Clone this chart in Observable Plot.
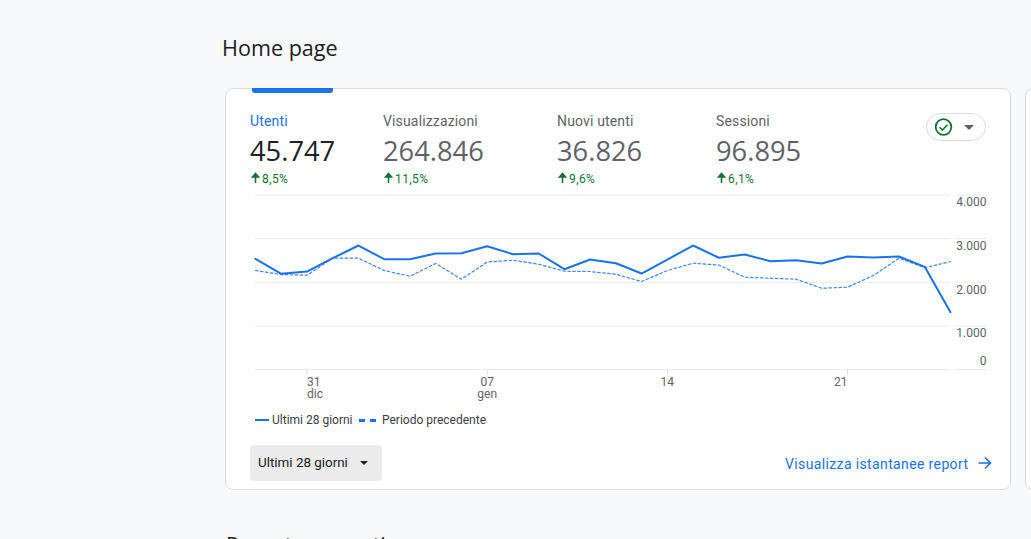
<!DOCTYPE html>
<html lang="it">
<head>
<meta charset="utf-8">
<script src="https://cdn.jsdelivr.net/npm/d3@7"></script>
<script src="https://cdn.jsdelivr.net/npm/@observablehq/plot@0.6"></script>
<style>
html,body{margin:0;padding:0;width:1031px;height:539px;overflow:hidden;background:#f8f9fa;font-family:Roboto,sans-serif;}
.a{position:absolute;white-space:nowrap;line-height:1;}
.card{position:absolute;background:#fff;border:1px solid #dadce0;border-radius:8px;box-sizing:border-box;}
.label{font-size:14px;color:#5f6368;top:114px;letter-spacing:.15px;}
.value{font-family:"Open Sans",sans-serif;font-size:27.3px;color:#5f6368;top:136.5px;letter-spacing:0;}
.delta{font-size:12px;color:#137333;top:173px;letter-spacing:.4px;}
.lg{font-size:12px;color:#3c4043;top:414px;}
#chart{position:absolute;left:225px;top:180px;}
</style>
</head>
<body>
<div class="a" id="title" style="left:222px;top:37px;font-size:21.6px;color:#202124;font-family:'Open Sans',sans-serif;">Home page</div>
<div class="card" style="left:225px;top:88px;width:786px;height:402px;"></div>
<div class="card" style="left:1025px;top:88px;width:40px;height:402px;"></div>
<div class="a" style="left:252px;top:88px;width:81px;height:5px;background:#1a73e8;border-radius:0 0 3px 3px;"></div>
<div id="kpis"></div>
<div class="a" style="left:926px;top:113px;width:58px;height:26px;border:1px solid #dadce0;border-radius:14px;background:#fff;"></div>
<svg class="a" style="left:934px;top:118px;" width="19" height="19" viewBox="0 0 19 19"><circle cx="9.5" cy="9" r="7.8" fill="none" stroke="#137333" stroke-width="1.8"/><path d="M5.6 9.3l2.8 2.8 5-5.4" fill="none" stroke="#137333" stroke-width="1.6"/></svg>
<div class="a" style="left:964px;top:125px;width:0;height:0;border-left:5px solid transparent;border-right:5px solid transparent;border-top:5px solid #5f6368;"></div>
<div id="chart"></div>
<div class="a" style="left:255px;top:419px;width:14px;height:2px;background:#1a73e8;"></div>
<div class="a lg" style="left:272px;">Ultimi 28 giorni</div>
<div class="a" style="left:359px;top:419px;width:6px;height:3px;background:#1a73e8;"></div>
<div class="a" style="left:370px;top:419px;width:6px;height:3px;background:#1a73e8;"></div>
<div class="a lg" style="left:382px;">Periodo precedente</div>
<div class="a" style="left:250px;top:445px;width:132px;height:36px;background:#ebebeb;border-radius:4px;"></div>
<div class="a" style="left:258px;top:456px;font-size:13.4px;color:#202124;">Ultimi 28 giorni</div>
<div class="a" style="left:360px;top:461px;width:0;height:0;border-left:4.5px solid transparent;border-right:4.5px solid transparent;border-top:4.5px solid #202124;"></div>
<div class="a" style="left:785px;top:457px;font-size:14px;color:#1a73e8;letter-spacing:.37px;">Visualizza istantanee report</div>
<svg class="a" style="left:977px;top:455px;" width="16" height="16" viewBox="0 0 16 16"><path d="M1.5 8h12M8 2.5l5.5 5.5-5.5 5.5" fill="none" stroke="#1a73e8" stroke-width="1.6"/></svg>
<div class="a" style="left:226px;top:535px;font-size:21px;word-spacing:20px;color:#202124;font-family:'Open Sans',sans-serif;">Report recenti</div>
<script>
const kpiLabels = ["Utenti", "Visualizzazioni", "Nuovi utenti", "Sessioni"];
const kpiValues = ["45.747", "264.846", "36.826", "96.895"];
const kpiDeltas = ["8,5%", "11,5%", "9,6%", "6,1%"];
const current = [2537,2193,2246,2551,2842,2528,2528,2659,2666,2824,2643,2659,2299,2521,2436,2200,2521,2842,2562,2636,2482,2505,2430,2590,2567,2590,2354,1313];
const previous = [2269,2177,2161,2551,2551,2269,2138,2430,2070,2464,2505,2413,2253,2246,2184,2017,2269,2436,2395,2115,2093,2070,1863,1886,2154,2551,2331,2475];
const yTicks = [1000,2000,3000,4000];
const xTickDates = ["2023-12-31","2024-01-07","2024-01-14","2024-01-21"].map(d=>new Date(d));
const xTickLabels = ["31\ndic","07\ngen","14","21"];
const startDate = new Date("2023-12-29");

const kpiX = [250,383,557,716];
const kpis = document.getElementById("kpis");
kpiLabels.forEach((l,i)=>{
  const active = i===0;
  kpis.insertAdjacentHTML("beforeend",
    `<div class="a label" style="left:${kpiX[i]}px;${active?"color:#1a73e8;":""}">${l}</div>`+
    `<div class="a value" style="left:${kpiX[i]}px;${active?"color:#202124;":""}">${kpiValues[i]}</div>`+
    `<svg class="a" style="left:${kpiX[i]+1}px;top:172px" width="9" height="12" viewBox="0 0 9 12"><path d="M4.5 11V3M1.5 5l3-3.5 3 3.5z" fill="#137333" stroke="#137333" stroke-width="1.6"/></svg>`+
    `<div class="a delta" style="left:${kpiX[i]+12}px;">${kpiDeltas[i]}</div>`);
});

const day = i => new Date(+startDate + i*864e5);
const cur = current.map((v,i)=>({d:day(i),v}));
const prev = previous.map((v,i)=>({d:day(i),v}));
const fmtX = d => xTickLabels[xTickDates.findIndex(t=>+t===+d)];
const fmtY = v => v===0 ? "0" : d3.format(",")(v).replace(/,/g,".");
const axisStyle = {tickSize:6,tickPadding:2,stroke:"#dadce0",color:"#5f6368",label:null,tickFormat:fmtX,fill:"#5f6368"};
const grid = [0,...yTicks];

const plot = Plot.plot({
  width:806,height:230,
  marginLeft:30,marginRight:81,marginTop:14.5,marginBottom:41,
  style:{fontFamily:"Roboto,sans-serif",fontSize:"12px",background:"transparent",color:"#5f6368",overflow:"visible"},
  x:{type:"utc",domain:[day(0),day(27)],axis:null},
  y:{domain:[0,4000],axis:null},
  marks:[
    Plot.ruleY(grid,{stroke:"#e8eaed",strokeWidth:1,strokeOpacity:1}),
    Plot.ruleY(grid,{stroke:"#e8eaed",strokeWidth:1,strokeOpacity:1,insetLeft:700,insetRight:-36}),
    Plot.axisX({...axisStyle,ticks:xTickDates.slice(0,1),textAnchor:"start"}),
    Plot.axisX({...axisStyle,ticks:xTickDates.slice(1,3),textAnchor:"middle"}),
    Plot.axisX({...axisStyle,ticks:xTickDates.slice(3),textAnchor:"end"}),
    Plot.axisY({anchor:"right",ticks:yTicks,tickSize:0,tickPadding:0,textAnchor:"end",dx:36,dy:7.5,tickFormat:fmtY,label:null,fill:"#5f6368"}),
    Plot.axisY({anchor:"right",ticks:[0],tickSize:0,tickPadding:0,textAnchor:"end",dx:36,dy:-8,tickFormat:fmtY,label:null,fill:"#5f6368"}),
    Plot.line(prev,{x:"d",y:"v",stroke:"#1a73e8",strokeWidth:1.2,strokeOpacity:.85,strokeDasharray:"2.5,2.5"}),
    Plot.line(cur,{x:"d",y:"v",stroke:"#1a73e8",strokeWidth:2,curve:"linear"})
  ]
});
document.getElementById("chart").appendChild(plot);
</script>
</body>
</html>
